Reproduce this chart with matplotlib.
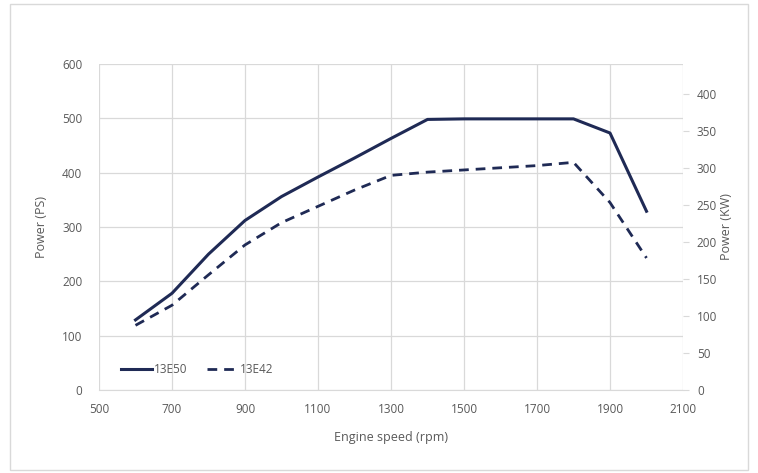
import matplotlib.pyplot as plt
from matplotlib.patches import Rectangle

# engine speed (rpm)
rpm = [600, 700, 800, 900, 1000, 1100, 1200, 1300, 1400, 1500, 1600, 1700, 1800, 1900, 2000]
# power in PS
p_13e50 = [129, 178, 250, 312, 356, 392, 427, 463, 498, 499, 499, 499, 499, 473, 329]
p_13e42 = [119, 156, 212, 267, 308, 338, 368, 395, 401, 405, 409, 413, 419, 345, 243]

xticks = [500, 700, 900, 1100, 1300, 1500, 1700, 1900, 2100]
left_ticks = [0, 100, 200, 300, 400, 500, 600]
right_ticks = [0, 50, 100, 150, 200, 250, 300, 350, 400]

navy = '#1f2a55'
txt = '#595959'
grid = '#d9d9d9'

plt.rcParams['font.family'] = ['Open Sans', 'DejaVu Sans']

fig = plt.figure(figsize=(7.58, 4.73), dpi=100)
fig.patches.append(Rectangle((10/758, 3/473), 738/758, 466/473, transform=fig.transFigure,
                             fill=False, edgecolor='#d9d9d9', linewidth=1))

ax = fig.add_axes([99/758, 1-390/473, 584/758, 326/473])
ax.plot(rpm, p_13e50, color=navy, lw=2.2, label='13E50')
ax.plot(rpm, p_13e42, color=navy, lw=2.0, ls=(0, (3.5, 2.5)), label='13E42')

ax.set_xlim(500, 2100)
ax.set_ylim(0, 600)
ax.set_xticks(xticks)
ax.set_yticks(left_ticks)
ax.grid(True, color=grid, lw=0.9)
ax.set_axisbelow(True)
for s in ax.spines.values():
    s.set_visible(False)
ax.spines['bottom'].set_visible(True)
ax.spines['bottom'].set_color(grid)
ax.tick_params(axis='both', length=0, labelsize=8.5, labelcolor=txt, pad=9)
ax.tick_params(axis='y', pad=12)
ax.set_xlabel('Engine speed (rpm)', fontsize=9, color=txt, labelpad=11)
ax.set_ylabel('Power (PS)', fontsize=9, color=txt, labelpad=10)

ax2 = ax.twinx()
ax2.set_ylim(0, 440)
ax2.set_yticks(right_ticks)
for s in ax2.spines.values():
    s.set_visible(False)
ax2.tick_params(axis='y', length=4, color=grid, labelsize=8.5, labelcolor=txt, pad=6)
ax2.set_ylabel('Power (KW)', fontsize=9, color=txt, labelpad=2)

leg = ax.legend(loc='lower left', bbox_to_anchor=(0.02, 0.01), ncol=2, frameon=False,
                fontsize=8.5, handlelength=2.6, handletextpad=0.2, columnspacing=1.6)
for t in leg.get_texts():
    t.set_color(txt)

fig.savefig('out.png', dpi=100)
